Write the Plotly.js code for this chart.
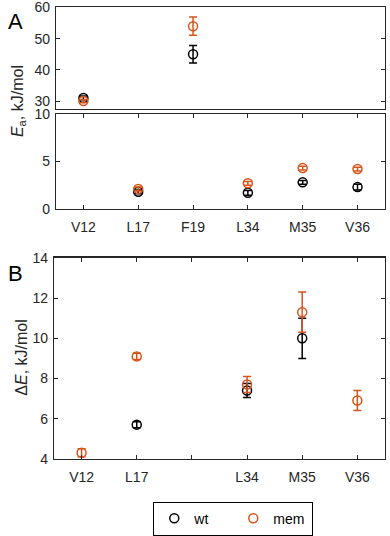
<!DOCTYPE html>
<html>
<head>
<meta charset="utf-8">
<script src="https://cdn.plot.ly/plotly-3.0.1.min.js"></script>
<style>
  html, body { margin: 0; padding: 0; background: white; }
  #chart { width: 390px; height: 536px; }
</style>
</head>
<body>
<div id="chart"></div>
<script>
// residues
var residues = ['V12', 'L17', 'F19', 'L34', 'M35', 'V36'];
var labelsB = ['V12', 'L17', '', 'L34', 'M35', 'V36'];

// panel A: activation energy Ea, kJ/mol
var eaWt     = [31,  1.8, 45,  1.7,  2.8, 2.3];
var eaWtErr  = [0.6, 0.2, 2.8, 0.25, 0.2, 0.3];
var eaMem    = [30,  2.1, 54,  2.7,  4.3, 4.2];
var eaMemErr = [0.5, 0.2, 2.9, 0.2,  0.2, 0.2];

// panel B: deltaE, kJ/mol
var dWt     = [null, 5.7,  null, 7.4,  10.0, null];
var dWtErr  = [null, 0.15, null, 0.35, 1.0,  null];
var dMem    = [4.3,  9.1,  null, 7.7,  11.3, 6.9];
var dMemErr = [0.2,  0.15, null, 0.4,  1.0,  0.5];

var wtColor = '#000000';
var memColor = '#D95319';
var axColor = '#262626';

var xpos = residues.map(function(r, i) { return i + 1; });

function series(name, y, err, color, xa, ya, legend) {
  return {
    x: xpos, y: y, name: name, type: 'scatter', mode: 'markers',
    xaxis: xa, yaxis: ya, showlegend: legend,
    marker: {symbol: 'circle-open', size: 9, color: color, line: {width: 1.5, color: color}},
    error_y: {type: 'data', array: err, visible: true, color: color, thickness: 1.5, width: 4}
  };
}

var data = [
  series('wt', eaWt, eaWtErr, wtColor, 'x', 'y', false),
  series('mem', eaMem, eaMemErr, memColor, 'x', 'y', false),
  series('wt', eaWt, eaWtErr, wtColor, 'x2', 'y2', false),
  series('mem', eaMem, eaMemErr, memColor, 'x2', 'y2', false),
  series('wt', dWt, dWtErr, wtColor, 'x3', 'y3', true),
  series('mem', dMem, dMemErr, memColor, 'x3', 'y3', true)
];

var tickFont = {family: 'Liberation Sans, Arial, sans-serif', size: 14, color: axColor};

function xax(domain, anchor, withTicks, text) {
  var a = {
    domain: domain, anchor: anchor, range: [0.5, 6.5],
    showline: true, linecolor: axColor, linewidth: 1.2, mirror: withTicks ? 'ticks' : true,
    showgrid: false, zeroline: false,
    tickfont: tickFont, tickvals: xpos
  };
  if (withTicks) {
    a.ticks = 'inside'; a.ticklen = 4; a.tickcolor = axColor; a.tickwidth = 1;
    a.ticktext = text; a.showticklabels = true; a.ticklabelstandoff = 5;
  } else {
    a.ticks = ''; a.showticklabels = false;
  }
  return a;
}

function yax(domain, anchor, range, tickvals) {
  return {
    domain: domain, anchor: anchor, range: range,
    showline: true, linecolor: axColor, linewidth: 1.2, mirror: 'ticks',
    showgrid: false, zeroline: false,
    ticks: 'inside', ticklen: 4, tickcolor: axColor, tickwidth: 1,
    tickvals: tickvals, tickfont: tickFont, ticklabelstandoff: 2,
    ticklabeloverflow: 'allow'
  };
}

var layout = {
  width: 390, height: 536,
  margin: {l: 0, r: 0, t: 0, b: 0},
  paper_bgcolor: 'white', plot_bgcolor: 'white',
  font: {family: 'Liberation Sans, Arial, sans-serif', color: axColor},
  xaxis: xax([0.1436, 0.987], 'y', false, residues),
  yaxis: yax([0.791, 0.986], 'x', [27.5, 60.05], [30, 40, 50, 60]),
  xaxis2: xax([0.1436, 0.987], 'y2', true, residues),
  yaxis2: yax([0.5989, 0.7817], 'x2', [0, 10.02], [0, 5, 10]),
  xaxis3: xax([0.1385, 0.987], 'y3', true, labelsB),
  yaxis3: yax([0.1194, 0.5056], 'x3', [4, 14.02], [4, 6, 8, 10, 12, 14]),
  showlegend: true,
  legend: {
    orientation: 'h', x: 0.393, xanchor: 'left', y: 0.037, yanchor: 'top',
    bordercolor: '#000', borderwidth: 1, bgcolor: 'white',
    font: {family: 'Liberation Sans, Arial, sans-serif', size: 14, color: '#000'},
    entrywidth: 34, traceorder: 'normal'
  },
  annotations: [
    {text: 'A', xref: 'paper', yref: 'paper', x: 0.015, y: 1 - 22 / 536, xanchor: 'left', yanchor: 'middle',
     showarrow: false, font: {size: 22, color: '#000'}},
    {text: 'B', xref: 'paper', yref: 'paper', x: 0.015, y: 1 - 281 / 536, xanchor: 'left', yanchor: 'middle',
     showarrow: false, font: {size: 22, color: '#000'}},
    {text: '<i>E</i><sub>a</sub>, kJ/mol', xref: 'paper', yref: 'paper', x: 18 / 390, y: 1 - 104 / 536,
     xanchor: 'center', yanchor: 'middle', textangle: -90, showarrow: false, font: {size: 16, color: axColor}},
    {text: '\u0394<i>E</i>, kJ/mol', xref: 'paper', yref: 'paper', x: 22 / 390, y: 1 - 368 / 536,
     xanchor: 'center', yanchor: 'middle', textangle: -90, showarrow: false, font: {size: 16, color: axColor}}
  ]
};

Plotly.newPlot('chart', data, layout, {displayModeBar: false, staticPlot: true});
</script>
</body>
</html>
